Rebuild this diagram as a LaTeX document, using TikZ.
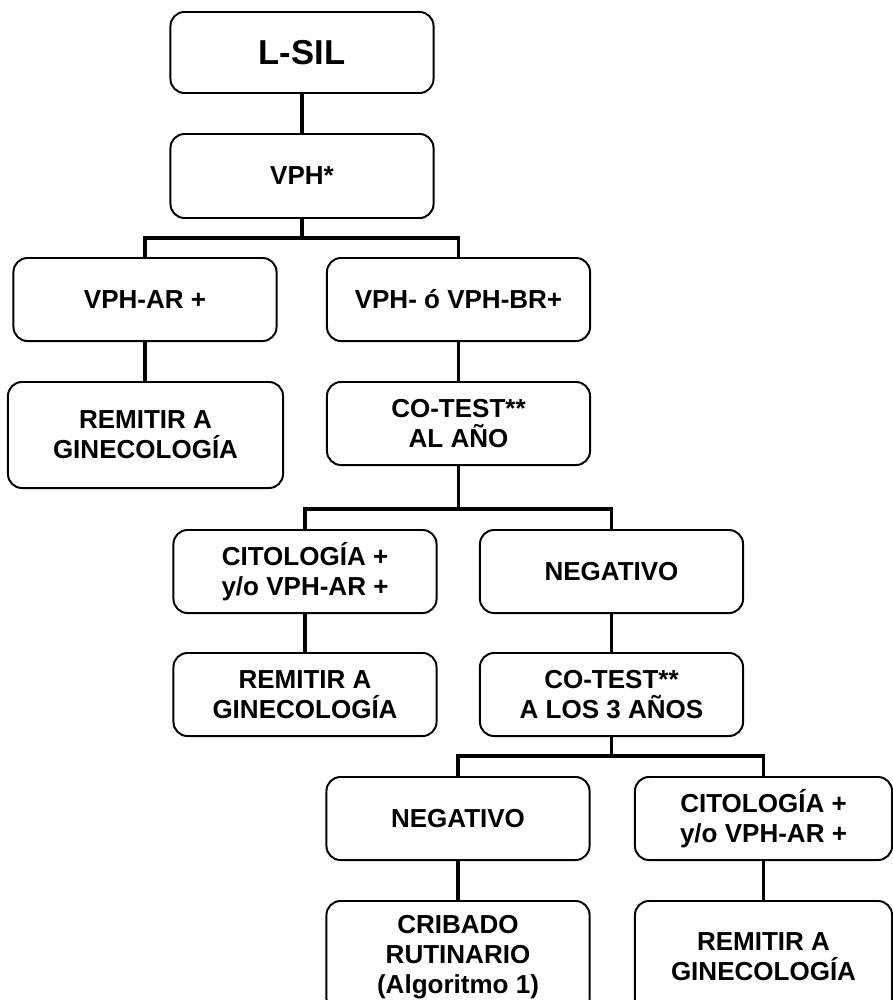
\documentclass[tikz,border=0pt]{standalone}
\usepackage{fontspec}
\setmainfont{Liberation Sans}
\begin{document}
\begin{tikzpicture}[
                x=0.025cm,y=-0.025cm,
                caja/.style={draw,rounded corners=0.35cm,line width=1.4pt,minimum width=6.575cm,minimum height=2.075cm,align=center,inner sep=2pt,font=\bfseries\fontsize{18.5}{21.3}\selectfont},
                rama/.style={line width=2.8pt}
            ]
                \useasboundingbox (0,0) rectangle (893,1000);
                \node[caja,minimum height=2.025cm,font=\bfseries\fontsize{24.6}{28}\selectfont] (lsil) at (302,52.5) {L-SIL};
                \node[caja,minimum height=2.1cm] (vph) at (302,176) {VPH*};
                \node[caja] (vphar) at (145,299.5) {VPH-AR +};
                \node[caja] (vphbr) at (458.5,299.5) {VPH- ó VPH-BR+};
                \node[caja,minimum width=6.875cm,minimum height=2.65cm] (remitira) at (145.5,435) {REMITIR A\\GINECOLOGÍA};
                \node[caja] (cotesta) at (458.5,423.5) {CO-TEST**\\AL AÑO};
                \node[caja] (citoa) at (305,571.5) {CITOLOGÍA +\\y/o VPH-AR +};
                \node[caja] (nega) at (611.5,571.5) {NEGATIVO};
                \node[caja] (remitirb) at (305,694.5) {REMITIR A\\GINECOLOGÍA};
                \node[caja] (cotestb) at (611.5,694.5) {CO-TEST**\\A LOS 3 AÑOS};
                \node[caja] (negb) at (458,818.5) {NEGATIVO};
                \node[caja,minimum width=6.425cm] (citob) at (763.5,818.5) {CITOLOGÍA +\\y/o VPH-AR +};
                \node[caja,minimum height=2.8cm] (cribado) at (458,957) {CRIBADO\\RUTINARIO\\(Algoritmo 1)};
                \node[caja,minimum width=6.425cm,minimum height=2.8cm] (remitirc) at (763.5,957) {REMITIR A\\GINECOLOGÍA};
                \draw[rama] (lsil) -- (vph);
                \draw[rama] (vph.south) -- ++(0,19) -| (vphar.north);
                \draw[rama] (vph.south) -- ++(0,19) -| (vphbr.north);
                \draw[rama] (vphar) -- (vphar |- remitira.north);
                \draw[rama] (vphbr) -- (cotesta);
                \draw[rama] (cotesta.south) -- ++(0,43) -| (citoa.north);
                \draw[rama] (cotesta.south) -- ++(0,43) -| (nega.north);
                \draw[rama] (citoa) -- (remitirb);
                \draw[rama] (nega) -- (cotestb);
                \draw[rama] (cotestb.south) -- ++(0,19) -| (negb.north);
                \draw[rama] (cotestb.south) -- ++(0,19) -| (citob.north);
                \draw[rama] (negb) -- (cribado);
                \draw[rama] (citob) -- (remitirc);
            \end{tikzpicture}
\end{document}
